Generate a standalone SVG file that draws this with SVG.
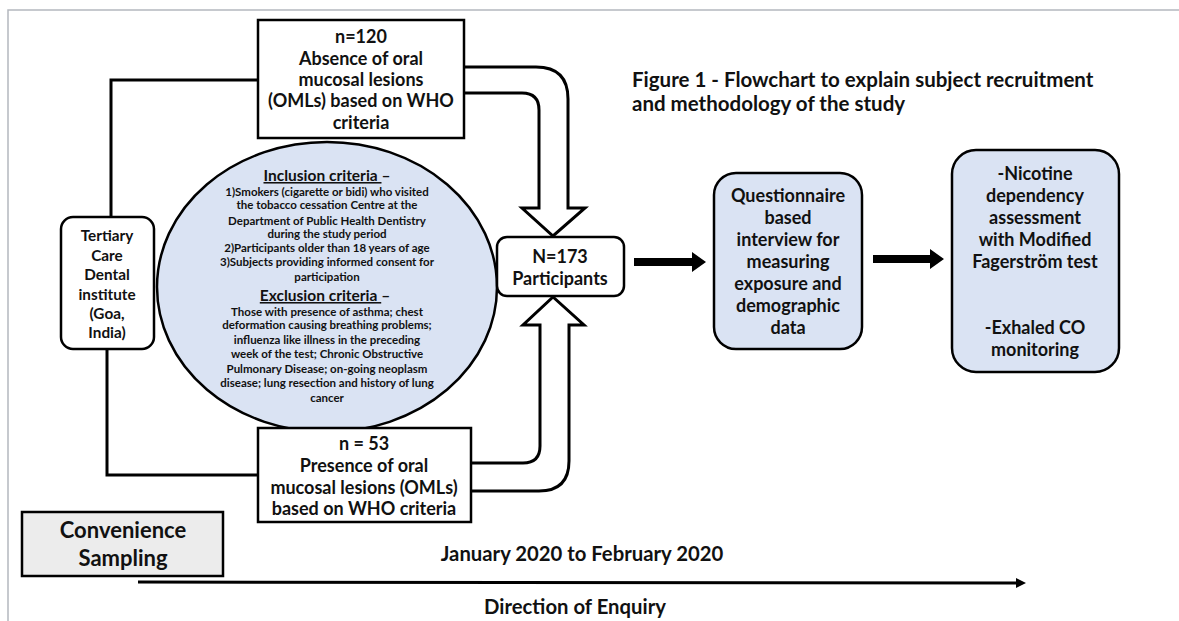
<svg xmlns="http://www.w3.org/2000/svg" width="1179" height="621" viewBox="0 0 1179 621">
<defs>
<style>
text{font-family:Lato,"Liberation Sans",sans-serif;font-weight:700;fill:#111;text-anchor:middle}
.b{font-size:18px}
.s{font-size:11.5px}
.h{font-size:15.5px}
.t{font-size:15.3px}
.u{text-decoration:underline}
.box{fill:#fff;stroke:#000;stroke-width:2.5}
.blue{fill:#dae3f3;stroke:#000;stroke-width:2.5}
.ln{fill:none;stroke:#000;stroke-width:3}
.blk{fill:#fff;stroke:#000;stroke-width:3;stroke-linejoin:miter}
</style>
</defs>
<rect x="0" y="0" width="1179" height="621" fill="#fff"/>
<rect x="8" y="10" width="1200" height="640" fill="none" stroke="#b4b8be" stroke-width="1.5"/>

<g id="connectors">
<polyline class="ln" points="258,80 111,80 111,217"/>
<polyline class="ln" points="107,349 107,475 258,475"/>
<path class="blk" d="M464,67 L536,67 Q568,67 568,99 L568,208 L585,208 L553,236 L522,208 L539,208 L539,110 Q539,93 522,93 L464,93"/>
<path class="blk" d="M472,463 L523,463 Q540,463 540,446 L540,325 L523,325 L553,297 L584,325 L569,325 L569,461 Q569,491 539,491 L472,491"/>
<path d="M634,258 L692,258 L692,252 L706,262 L692,272 L692,266 L634,266 Z" fill="#000"/>
<path d="M873,255 L930,255 L930,249 L944,259 L930,269 L930,263 L873,263 Z" fill="#000"/>
<line x1="138" y1="582" x2="1018" y2="583" stroke="#000" stroke-width="3"/>
<path d="M1016,578 L1026,583 L1016,588 Z" fill="#000"/>
</g>

<g id="criteria">
<ellipse class="blue" cx="327" cy="287" rx="170" ry="145"/>
<text class="h" x="327" y="181"><tspan class="u">Inclusion criteria  </tspan>–</text>
<text class="s" x="327" y="196">1)Smokers (cigarette or bidi) who visited</text>
<text class="s" x="327" y="209">the tobacco cessation Centre at the</text>
<text class="s" x="327" y="225">Department of Public Health Dentistry</text>
<text class="s" x="327" y="238">during the study period</text>
<text class="s" x="327" y="252">2)Participants older than 18 years of age</text>
<text class="s" x="327" y="266">3)Subjects providing informed consent for</text>
<text class="s" x="327" y="281">participation</text>
<text class="h" x="325" y="301"><tspan class="u">Exclusion criteria  </tspan>–</text>
<text class="s" x="327" y="316">Those with presence of asthma; chest</text>
<text class="s" x="327" y="329">deformation causing breathing problems;</text>
<text class="s" x="327" y="344">influenza like illness in the preceding</text>
<text class="s" x="327" y="358">week of the test; Chronic Obstructive</text>
<text class="s" x="327" y="373">Pulmonary Disease; on-going neoplasm</text>
<text class="s" x="327" y="387">disease; lung resection and history of lung</text>
<text class="s" x="327" y="402">cancer</text>
</g>

<g id="absence">
<rect class="box" x="258" y="20" width="206" height="118"/>
<text class="b" x="361" y="43">n=120</text>
<text class="b" x="361" y="65">Absence of oral</text>
<text class="b" x="361" y="86">mucosal lesions</text>
<text class="b" x="361" y="107">(OMLs) based on WHO</text>
<text class="b" x="361" y="129">criteria</text>
</g>

<g id="tertiary">
<rect class="box" x="61" y="217" width="93" height="132" rx="12"/>
<text class="t" x="107" y="241">Tertiary</text>
<text class="t" x="107" y="261">Care</text>
<text class="t" x="107" y="280">Dental</text>
<text class="t" x="107" y="300">institute</text>
<text class="t" x="107" y="319">(Goa,</text>
<text class="t" x="107" y="338">India)</text>
</g>

<g id="presence">
<rect class="box" x="258" y="428" width="213" height="94"/>
<text class="b" x="364" y="450">n = 53</text>
<text class="b" x="364" y="472">Presence of oral</text>
<text class="b" x="364" y="494">mucosal lesions (OMLs)</text>
<text class="b" x="364" y="515">based on WHO criteria</text>
</g>

<g id="participants">
<rect class="box" x="497" y="237" width="127" height="59" rx="10"/>
<text class="b" x="560" y="263">N=173</text>
<text class="b" x="560" y="285">Participants</text>
</g>

<g id="questionnaire">
<rect class="blue" x="714" y="173" width="148" height="176" rx="22"/>
<text class="b" x="788" y="202">Questionnaire</text>
<text class="b" x="788" y="224">based</text>
<text class="b" x="788" y="246">interview for</text>
<text class="b" x="788" y="268">measuring</text>
<text class="b" x="788" y="290">exposure and</text>
<text class="b" x="788" y="312">demographic</text>
<text class="b" x="788" y="334">data</text>
</g>

<g id="nicotine">
<rect class="blue" x="952" y="150" width="167" height="222" rx="24"/>
<text class="b" x="1035" y="180">-Nicotine</text>
<text class="b" x="1035" y="202">dependency</text>
<text class="b" x="1035" y="224">assessment</text>
<text class="b" x="1035" y="246">with Modified</text>
<text class="b" x="1035" y="268">Fagerström test</text>
<text class="b" x="1035" y="334">-Exhaled CO</text>
<text class="b" x="1035" y="356">monitoring</text>
</g>

<g id="title">
<text style="font-size:20.5px;text-anchor:start" x="632" y="87">Figure 1  - Flowchart to explain subject recruitment</text>
<text style="font-size:20.5px;text-anchor:start" x="632" y="111">and methodology of the study</text>
</g>

<g id="sampling">
<rect x="22" y="512" width="201" height="64" fill="#ececec" stroke="#000" stroke-width="2.5"/>
<text style="font-size:22px" x="123" y="538">Convenience</text>
<text style="font-size:22px" x="123" y="566">Sampling</text>
</g>

<text style="font-size:20.3px" x="582" y="561">January 2020 to February 2020</text>
<text style="font-size:20.3px" x="575" y="614">Direction of Enquiry</text>
</svg>
